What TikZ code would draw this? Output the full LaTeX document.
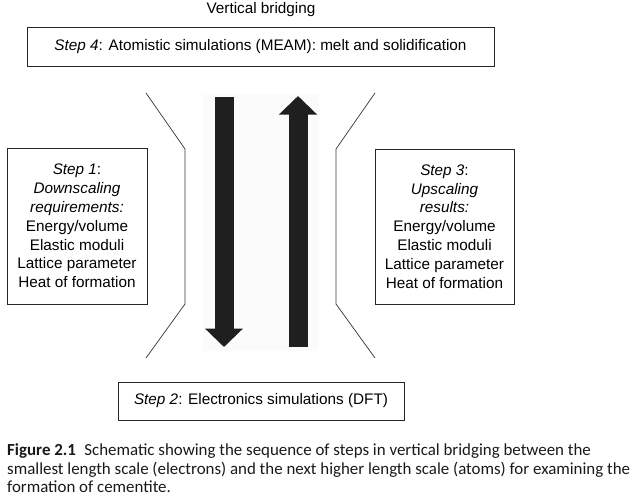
\documentclass[tikz,border=0pt]{standalone}
\usepackage{fontspec}
\setmainfont{Liberation Sans}
\newfontfamily\capfont{Carlito}
\usetikzlibrary{arrows.meta}

\tikzset{
  stepbox/.style={draw=black!85, line width=0.9pt, align=center, inner sep=0pt,
    font=\fontsize{15.3}{18.8}\selectfont},
  bracket/.style={draw=black!80, line width=0.7pt},
  fatarrow/.style={line width=19pt, draw=black!88,
    -{Triangle[length=18.5pt,width=37pt]}}
}

\begin{document}
\begin{tikzpicture}[x=1pt,y=-1pt]
    % Fix the page size
    \useasboundingbox (0,0) rectangle (641,501);

    % Title
    \node[font=\fontsize{15.3}{18}\selectfont, anchor=base] (title) at (261,13) {Vertical bridging};

    % The four steps
    \node[stepbox, minimum width=467pt, minimum height=39pt] (step4) at (260.5,46.5)
        {\textit{Step 4}: Atomistic simulations (MEAM): melt and solidification};
    \node[stepbox, minimum width=140pt, minimum height=156pt] (step1) at (77,226)
        {\textit{Step 1}:\\ \textit{Downscaling}\\ \textit{requirements:}\\ Energy/volume\\ Elastic moduli\\ Lattice parameter\\ Heat of formation};
    \node[stepbox, minimum width=139pt, minimum height=155pt] (step3) at (444.5,226.5)
        {\textit{Step 3}:\\ \textit{Upscaling}\\ \textit{results:}\\ Energy/volume\\ Elastic moduli\\ Lattice parameter\\ Heat of formation};
    \node[stepbox, minimum width=286pt, minimum height=38pt] (step2) at (261,401)
        {\textit{Step 2}: Electronics simulations (DFT)};

    % Light panel behind the arrows
    \fill[black!1.5] (203,94) rectangle (319,351);

    % Downscaling and upscaling arrows
    \coordinate (downtop) at (224,97);
    \coordinate (downtip) at (224,347);
    \coordinate (upbot) at (298,347);
    \coordinate (uptip) at (298,96);
    \draw[fatarrow] (downtop) -- (downtip);
    \draw[fatarrow] (upbot) -- (uptip);

    % Brackets on either side
    \draw[bracket] (146,93) -- (185,149) -- (185,304) -- (146,358);
    \draw[bracket] (375,93) -- (336,149) -- (336,304) -- (375,358);

    % Caption (base anchor sits on its last line)
    \node[anchor=base west, align=left, inner sep=0pt, text=black!90,
          font=\capfont\fontsize{16.9}{18.5}\selectfont] (caption) at (7,492.5)
        {\textbf{Figure 2.1}\enspace Schematic showing the sequence of steps in vertical bridging between the\\
         smallest length scale (electrons) and the next higher length scale (atoms) for examining the\\
         formation of cementite.};
\end{tikzpicture}
\end{document}
